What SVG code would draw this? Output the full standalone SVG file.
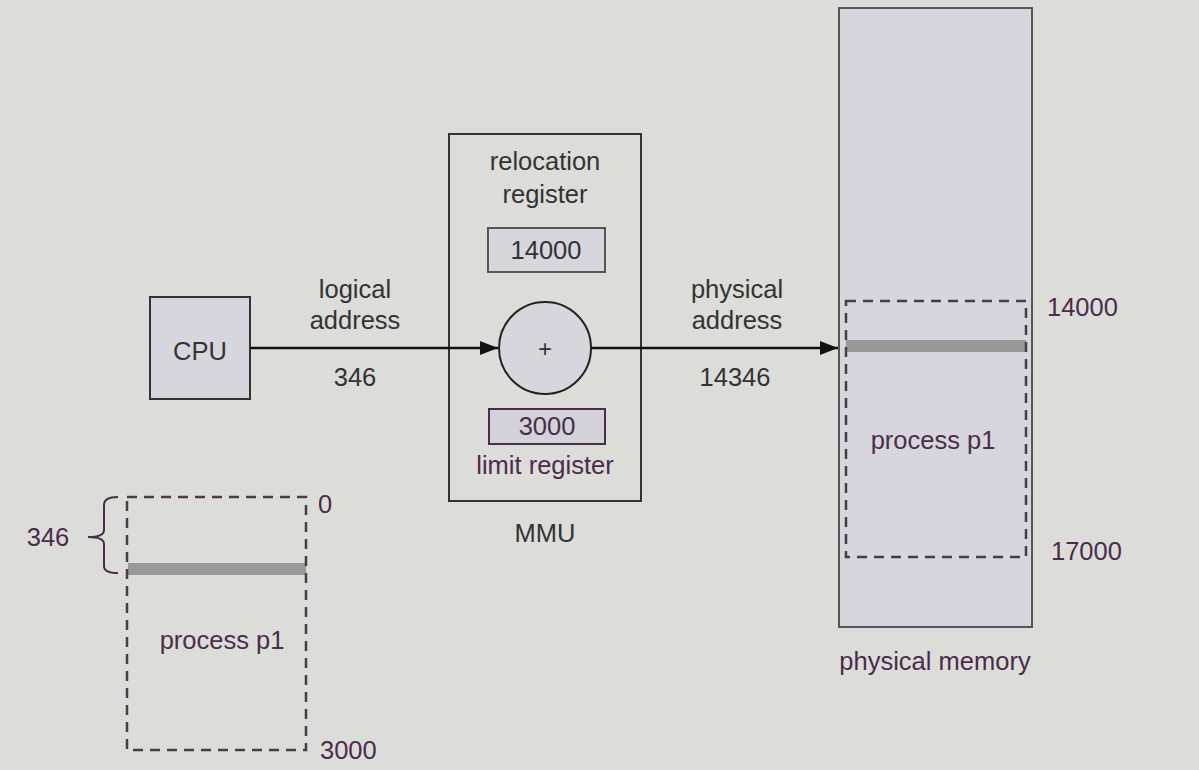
<svg xmlns="http://www.w3.org/2000/svg" width="1199" height="770" viewBox="0 0 1199 770">
<style>
.t{font-family:"Liberation Sans",Arial,sans-serif;font-size:25.5px;fill:#333;text-anchor:middle}
.p{fill:#4a2d4a}
.l{text-anchor:start}
.box{fill:#d6d6dc;stroke:#333;stroke-width:2}
.dash{fill:none;stroke:#4a3a4a;stroke-width:2.5;stroke-dasharray:10 7}
.bar{stroke:#999;stroke-width:12}
</style>
<defs>
<marker id="ah" markerWidth="18" markerHeight="14" refX="18" refY="7" orient="auto" markerUnits="userSpaceOnUse">
<path d="M0,0 L18,7 L0,14 z" fill="#111"/>
</marker>
</defs>
<rect width="1199" height="770" fill="#dcdcd8"/>
<g id="memory">
<rect x="839" y="8" width="193" height="619" fill="#d6d6dc" stroke="#555" stroke-width="2"/>
<line class="bar" x1="846" y1="346" x2="1026" y2="346"/>
<rect class="dash" x="846" y="301" width="180" height="256"/>
<text class="t p" x="933" y="449">process p1</text>
<text class="t p l" x="1047" y="316">14000</text>
<text class="t p l" x="1051" y="560">17000</text>
<text class="t p" x="935" y="670">physical memory</text>
</g>
<g id="mmu">
<rect x="449" y="134" width="192" height="367" fill="none" stroke="#333" stroke-width="2"/>
<text class="t" x="545" y="170">relocation</text>
<text class="t" x="545" y="203">register</text>
<rect x="488" y="228" width="117" height="44" fill="#d6d6dc" stroke="#555" stroke-width="2"/>
<text class="t" x="546" y="259">14000</text>
<circle cx="545" cy="348" r="46" fill="#d6d6dc" stroke="#222" stroke-width="2"/>
<text class="t" x="545" y="357" style="font-size:24px">+</text>
<rect x="489" y="409" width="116" height="35" fill="#d2d2d8" stroke="#4a2d4a" stroke-width="2"/>
<text class="t p" x="547" y="435">3000</text>
<text class="t p" x="545" y="474">limit register</text>
<text class="t" x="545" y="542">MMU</text>
</g>
<g id="cpu">
<rect class="box" x="150" y="297" width="100" height="102"/>
<text class="t" x="200" y="360">CPU</text>
</g>
<g id="process">
<line class="bar" x1="128" y1="569" x2="306" y2="569"/>
<rect class="dash" x="127" y="497" width="179" height="253"/>
<text class="t p" x="222" y="649">process p1</text>
<text class="t p l" x="318" y="513">0</text>
<text class="t p l" x="320" y="759">3000</text>
<path d="M118,497 Q104,497 104,505 L104,530 Q104,537 88,537 Q104,537 104,544 L104,566 Q104,573 118,573" fill="none" stroke="#4a2d4a" stroke-width="2"/>
<text class="t p" x="48" y="546">346</text>
</g>
<g id="connectors">
<line x1="250" y1="348" x2="498" y2="348" stroke="#111" stroke-width="2.5" marker-end="url(#ah)"/>
<line x1="591" y1="348" x2="838" y2="348" stroke="#111" stroke-width="2.5" marker-end="url(#ah)"/>
<text class="t" x="355" y="298">logical</text>
<text class="t" x="355" y="329">address</text>
<text class="t" x="355" y="386">346</text>
<text class="t" x="737" y="298">physical</text>
<text class="t" x="737" y="329">address</text>
<text class="t" x="735" y="386">14346</text>
</g>
</svg>
